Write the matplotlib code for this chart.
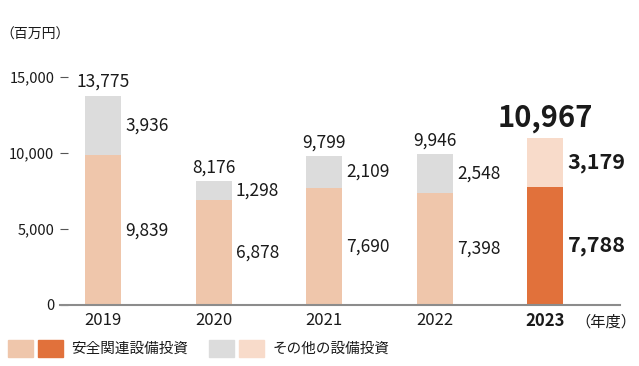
"""
Figure: capital expenditure (safety related / other)
"""
import matplotlib
matplotlib.use("Agg")
import matplotlib.pyplot as plt
from matplotlib.patches import Rectangle

plt.rcParams['font.family'] = ['Noto Sans CJK JP', 'DejaVu Sans']

# --------------------------------------------------------------------------------
# data
# --------------------------------------------------------------------------------
YEARS = ["2019", "2020", "2021", "2022", "2023"]
SAFETY = [9839, 6878, 7690, 7398, 7788]
OTHER = [3936, 1298, 2109, 2548, 3179]
TOTAL = [13775, 8176, 9799, 9946, 10967]
Y_TICKS = [0, 5000, 10000, 15000]
Y_TICK_LABELS = ["0", "5,000", "10,000", "15,000"]

# colors
C_SAFETY = "#EFC6AB"
C_SAFETY_HL = "#E1713B"
C_OTHER = "#DCDCDC"
C_OTHER_HL = "#F8DBCA"
C_TEXT = "#1a1a1a"

W, H = 639, 366
DPI = 100


def fx(px):
    return px / W


def fy(py):
    return 1 - py / H


def main_function():
    fig = plt.figure(figsize=(W / DPI, H / DPI), dpi=DPI, facecolor='w')
    # axes: left 60px, right 620px, bottom y=305px, top y=40px
    ax = fig.add_axes([fx(60), fy(305), fx(620) - fx(60), fy(40) - fy(305)])

    ymax = 15000 * (305 - 40) / 228.0
    ax.set_ylim(0, ymax)
    ax.set_xlim(-(103 - 60) / 110.5, (620 - 103) / 110.5)

    x = list(range(len(YEARS)))
    bw = 36 / 110.5
    c_s = [C_SAFETY] * 4 + [C_SAFETY_HL]
    c_o = [C_OTHER] * 4 + [C_OTHER_HL]
    ax.bar(x, SAFETY, width=bw, color=c_s, zorder=2)
    ax.bar(x, OTHER, width=bw, bottom=SAFETY, color=c_o, zorder=2)

    # labels
    for i in x:
        last = i == len(x) - 1
        off = bw / 2 + 0.04
        ax.text(i + off, SAFETY[i] / 2, "{:,}".format(SAFETY[i]), ha='left', va='center',
                fontsize=15.5 if last else 12.5, fontweight='bold' if last else 'normal',
                color=C_TEXT)
        ax.text(i + off, SAFETY[i] + OTHER[i] / 2, "{:,}".format(OTHER[i]), ha='left', va='center',
                fontsize=15.5 if last else 12.5, fontweight='bold' if last else 'normal',
                color=C_TEXT)
        ax.text(i, TOTAL[i] + (350 if last else 300), "{:,}".format(TOTAL[i]), ha='center', va='bottom',
                fontsize=21 if last else 12.5, fontweight='bold' if last else 'normal',
                color=C_TEXT)

    # axes style
    for s in ['top', 'right', 'left']:
        ax.spines[s].set_visible(False)
    ax.spines['bottom'].set_color('#8c8c8c')
    ax.spines['bottom'].set_linewidth(1.5)
    ax.spines['bottom'].set_zorder(3)

    ax.set_yticks(Y_TICKS)
    ax.set_yticklabels(Y_TICK_LABELS)
    ax.tick_params(axis='y', direction='in', length=6, width=0.8, color='#555555',
                   pad=4, labelsize=10.5, labelcolor=C_TEXT)
    ax.set_xticks(x)
    ax.set_xticklabels(YEARS)
    ax.tick_params(axis='x', length=0, pad=5, labelsize=12, labelcolor=C_TEXT)
    ax.get_xticklabels()[-1].set_fontweight('bold')

    # unit texts
    fig.text(fx(0), fy(35), "（百万円）", ha='left', va='center', fontsize=10, color=C_TEXT)
    fig.text(fx(575), fy(322), "（年度）", ha='left', va='center', fontsize=11, color=C_TEXT)

    # legend
    ph = 17
    for (x0, col) in [(8, C_SAFETY), (38, C_SAFETY_HL), (209, C_OTHER), (239, C_OTHER_HL)]:
        fig.patches.append(Rectangle((fx(x0), fy(357)), fx(25), ph / H, color=col,
                                     transform=fig.transFigure, figure=fig))
    fig.text(fx(71), fy(349), "安全関連設備投資", ha='left', va='center', fontsize=10.5, color=C_TEXT)
    fig.text(fx(273), fy(349), "その他の設備投資", ha='left', va='center', fontsize=10.5, color=C_TEXT)

    plt.savefig("out.png", dpi=DPI)
    plt.close()


if __name__ == '__main__':
    main_function()
